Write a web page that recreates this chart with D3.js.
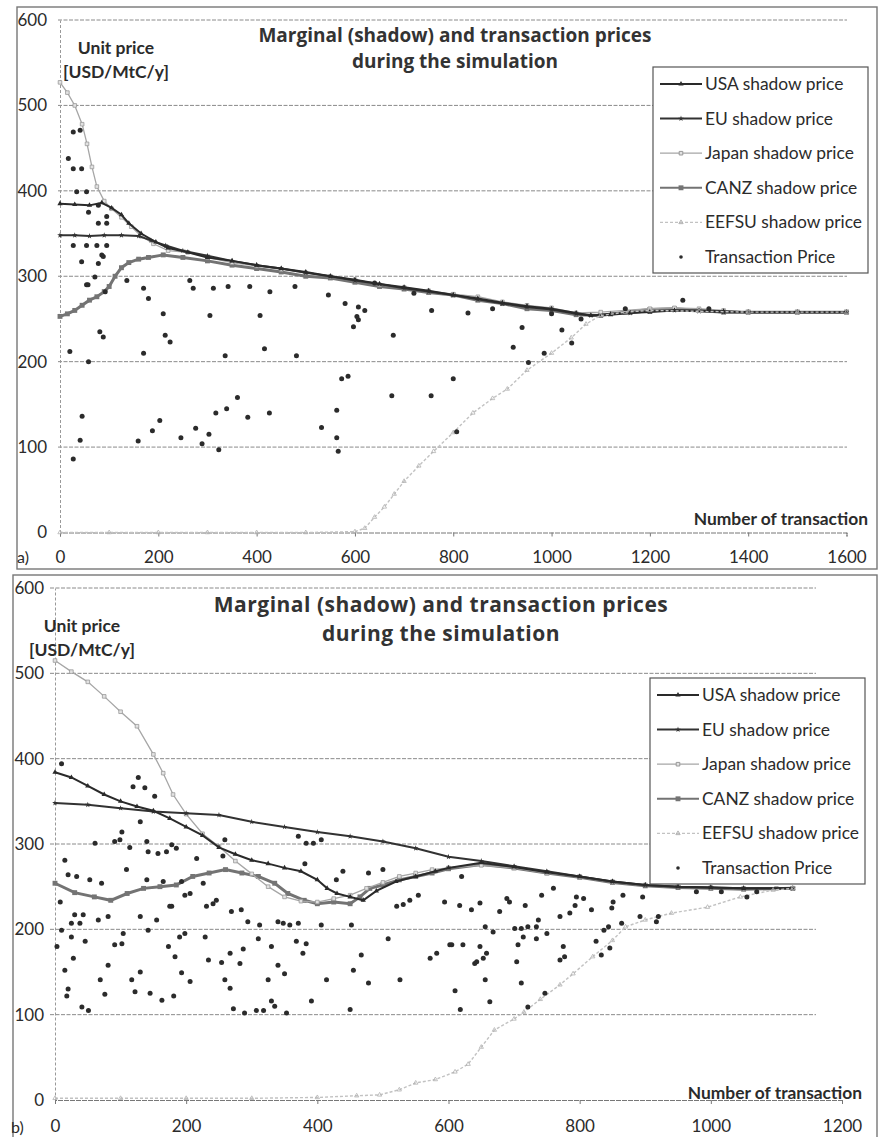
<!DOCTYPE html>
<html>
<head>
<meta charset="utf-8">
<script src="https://cdn.jsdelivr.net/npm/d3@7"></script>
<style>
  body { margin: 0; background: #fff; }
  svg text { font-family: Lato, "Open Sans", sans-serif; fill: #2b2b2b; }
</style>
</head>
<body>
<svg id="chart" width="880" height="1137"></svg>
<script>
// ---- panel a) data : [number of transaction, price]
const aUSA = [[0,385],[30,384],[60,383],[85,386],[105,380],[125,372],[140,362],[165,350],[195,340],[220,333],[260,328],[300,322],[350,318],[400,313],[450,309],[500,305],[550,300],[600,296],[650,291],[700,287],[750,283],[800,278],[850,274],[900,269],[950,265],[1000,262],[1050,257],[1080,254],[1120,255],[1160,257],[1200,258],[1250,260],[1300,260],[1350,259],[1400,258],[1500,258],[1600,258]];
const aEU = [[0,348],[30,348],[60,347],[90,348],[125,348],[160,347],[185,342],[215,336],[250,330],[300,324],[350,318],[400,313],[450,309],[500,304],[550,300],[600,295],[650,291],[700,286],[750,282],[800,278],[850,273],[900,268],[950,264],[1000,261],[1050,256],[1080,254],[1120,256],[1160,257],[1200,259],[1250,260],[1300,259],[1350,258],[1400,258],[1500,258],[1600,258]];
const aJapan = [[0,527],[15,515],[30,500],[45,478],[55,455],[65,428],[75,405],[90,388],[105,379],[125,369],[145,358],[165,347],[190,338],[220,330],[260,328],[300,322],[350,316],[400,312],[450,308],[500,304],[550,300],[600,296],[650,290],[700,287],[750,283],[800,279],[850,276],[900,270],[950,266],[1000,263],[1050,257],[1100,258],[1150,260],[1200,262],[1250,263],[1300,262],[1350,260],[1400,258],[1500,258],[1600,258]];
const aCANZ = [[0,253],[15,256],[30,260],[45,266],[60,272],[75,276],[90,282],[100,288],[112,300],[125,310],[140,316],[160,320],[180,322],[210,325],[250,322],[300,318],[350,313],[400,309],[450,305],[500,300],[550,298],[600,293],[650,288],[700,285],[750,281],[800,278],[850,272],[900,268],[950,262],[1000,260],[1050,255],[1100,254],[1150,258],[1200,261],[1250,262],[1300,260],[1350,258],[1400,258],[1500,258],[1600,258]];
const aEEFSU = [[0,0],[100,0],[200,0],[300,0],[400,0],[500,0],[600,1],[620,5],[640,18],[660,30],[680,45],[700,60],[730,78],[760,95],[800,117],[840,140],[880,157],[910,168],[950,190],[1000,210],[1040,228],[1070,244],[1100,254],[1150,258],[1200,260],[1300,259],[1400,258],[1500,258],[1600,258]];
const aTrade = [[27,469],[41,471],[17,438],[27,426],[44,426],[34,399],[54,399],[58,375],[78,383],[95,370],[78,362],[95,362],[27,336],[54,336],[75,336],[95,336],[44,317],[78,315],[85,325],[88,323],[71,299],[54,290],[57,290],[136,295],[92,282],[170,286],[180,274],[264,295],[271,286],[312,286],[342,288],[386,288],[427,282],[478,288],[546,278],[210,256],[305,254],[407,254],[81,235],[88,229],[214,231],[224,223],[20,212],[170,210],[58,200],[336,207],[416,215],[481,207],[580,268],[607,264],[620,260],[604,253],[607,249],[597,241],[678,231],[756,260],[573,180],[586,183],[675,160],[755,160],[800,180],[45,136],[41,108],[27,86],[159,107],[188,119],[203,131],[246,111],[276,122],[289,104],[303,115],[323,97],[317,140],[339,145],[361,158],[382,135],[426,140],[532,123],[563,143],[563,111],[566,95],[922,217],[953,199],[985,210],[807,118],[1041,222],[940,240],[1021,237],[830,257],[640,292],[720,280],[880,262],[1000,256],[1060,250],[1150,262],[1267,272],[1320,262]];

// ---- panel b) data
const bUSA = [[0,384],[25,378],[50,368],[75,358],[100,350],[125,344],[150,339],[175,330],[200,320],[225,310],[250,296],[275,288],[300,281],[325,277],[350,272],[375,268],[400,258],[415,248],[430,242],[450,238],[470,234],[490,245],[520,256],[550,262],[580,268],[600,272],[650,278],[700,273],[750,267],[800,262],[850,256],[900,252],[950,250],[1000,249],[1050,248],[1125,248]];
const bEU = [[0,348],[50,346],[100,342],[150,338],[200,336],[250,334],[300,326],[350,320],[400,314],[450,309],[500,303],[550,295],[600,285],[650,280],[700,274],[750,268],[800,262],[850,256],[900,252],[950,250],[1000,249],[1050,248],[1125,248]];
const bJapan = [[0,515],[25,502],[50,490],[75,473],[100,455],[125,438],[150,405],[165,383],[180,358],[200,335],[225,312],[250,297],[275,280],[300,265],[325,250],[350,238],[375,233],[400,232],[425,236],[450,240],[475,248],[500,255],[525,262],[550,266],[575,270],[600,272],[650,275],[700,272],[750,266],[800,262],[850,256],[900,252],[950,250],[1000,249],[1050,248],[1100,248],[1125,248]];
const bCANZ = [[0,254],[30,243],[60,238],[85,234],[110,242],[135,248],[160,250],[185,252],[210,262],[235,266],[260,270],[285,266],[310,262],[335,254],[355,242],[380,234],[400,230],[425,232],[450,230],[465,238],[480,248],[500,252],[525,258],[550,262],[575,266],[600,271],[650,276],[700,272],[750,266],[800,261],[850,255],[900,251],[950,249],[1000,248],[1050,247],[1125,248]];
const bEEFSU = [[0,2],[100,2],[200,2],[300,2],[400,3],[460,5],[495,6],[525,12],[550,20],[580,24],[610,33],[630,42],[650,62],[670,82],[700,95],[715,103],[740,118],[770,135],[790,148],[820,168],[850,187],[870,203],[900,211],[940,219],[995,226],[1045,238],[1095,246],[1125,248]];
const bTrade = [[10,394],[127,378],[119,367],[137,366],[152,356],[130,326],[102,314],[61,301],[91,303],[99,305],[114,296],[140,303],[142,291],[157,289],[170,291],[185,295],[178,299],[15,281],[109,270],[216,283],[259,305],[256,286],[371,309],[383,301],[406,305],[394,301],[381,277],[439,268],[429,258],[478,266],[500,270],[33,262],[20,264],[53,258],[71,254],[140,258],[165,256],[193,256],[226,254],[178,227],[198,240],[206,242],[241,230],[231,227],[246,234],[269,221],[284,223],[294,209],[312,205],[340,209],[348,207],[358,205],[371,207],[406,205],[452,205],[521,227],[531,229],[541,234],[554,240],[8,232],[30,217],[43,217],[25,207],[38,207],[66,211],[81,215],[130,215],[155,211],[175,227],[10,199],[25,191],[46,186],[104,195],[142,199],[91,182],[102,183],[173,180],[198,195],[190,191],[229,191],[310,189],[330,180],[368,186],[383,183],[508,189],[602,182],[3,180],[28,166],[183,168],[234,164],[267,172],[287,177],[254,161],[282,160],[340,158],[378,172],[467,170],[572,166],[582,172],[15,152],[81,158],[130,150],[193,149],[350,148],[455,152],[69,141],[117,141],[206,139],[259,141],[325,141],[414,141],[526,141],[478,137],[267,131],[20,130],[76,124],[122,127],[145,125],[18,122],[163,117],[181,122],[330,116],[391,116],[41,109],[51,105],[272,107],[289,102],[307,105],[318,105],[335,110],[353,102],[450,106],[620,262],[594,232],[617,228],[635,223],[648,231],[678,221],[689,236],[693,232],[717,228],[742,240],[760,248],[795,238],[793,228],[806,236],[818,223],[770,215],[785,219],[849,225],[851,232],[866,240],[737,211],[734,203],[721,203],[711,201],[701,201],[656,203],[668,197],[714,191],[734,189],[750,195],[844,203],[837,199],[864,207],[892,215],[920,215],[917,209],[605,182],[622,182],[648,180],[706,182],[775,180],[777,168],[825,186],[833,170],[846,178],[658,172],[653,166],[640,160],[643,162],[704,162],[770,164],[656,141],[711,137],[610,128],[747,125],[663,115],[618,106],[721,109],[896,238],[978,244],[1016,244],[1055,238],[1070,244]];

const yTicks = [0, 100, 200, 300, 400, 500, 600];
const aXTicks = [0, 200, 400, 600, 800, 1000, 1200, 1400, 1600];
const bXTicks = [0, 200, 400, 600, 800, 1000, 1200];
const legendNames = ["USA shadow price", "EU shadow price", "Japan shadow price", "CANZ shadow price", "EEFSU shadow price", "Transaction Price"];
const titleLines = ["Marginal (shadow) and transaction prices", "during the simulation"];

const svg = d3.select("#chart");

// series look, index matches legendNames
const styles = [
    { stroke: "#2a2a2a", width: 2, sym: d3.symbolTriangle, size: 12, fill: "#2a2a2a", mstroke: "none" },
    { stroke: "#323232", width: 2, sym: d3.symbolStar, size: 10, fill: "#323232", mstroke: "none" },
    { stroke: "#a6a6a6", width: 1.3, sym: d3.symbolSquare, size: 13, fill: "#e2e2e2", mstroke: "#999" },
    { stroke: "#737373", width: 3, sym: d3.symbolSquare, size: 24, fill: "#747474", mstroke: "none" },
    { stroke: "#c2c2c2", width: 1.4, dash: "3,2", sym: d3.symbolTriangle, size: 8, fill: "none", mstroke: "#b3b3b3" }
];

function drawSeries(g, data, st, x, y) {
    let line = d3.line().x(d => x(d[0])).y(d => y(d[1]));
    g.append("path").datum(data)
        .attr("d", line)
        .attr("fill", "none")
        .attr("stroke", st.stroke)
        .attr("stroke-width", st.width)
        .attr("stroke-dasharray", st.dash || null)
    g.selectAll(null).data(data).enter()
        .append("path")
        .attr("d", d3.symbol().type(st.sym).size(st.size))
        .attr("transform", d => `translate(${x(d[0])},${y(d[1])})`)
        .attr("fill", st.fill)
        .attr("stroke", st.mstroke)
        .attr("stroke-width", 0.8)
}

function drawLegend(g, lx, ly) {
    g.append("rect")
        .attr("x", lx).attr("y", ly)
        .attr("width", 215).attr("height", 206)
        .attr("fill", "#fff")
        .attr("stroke", "#555").attr("stroke-width", 1.2)
    legendNames.forEach((name, i) => {
        let cy = ly + 17 + i * 34.6;
        if (i < 5) {
            let st = styles[i];
            g.append("line")
                .attr("x1", lx + 7).attr("x2", lx + 49)
                .attr("y1", cy).attr("y2", cy)
                .attr("stroke", st.stroke).attr("stroke-width", Math.min(st.width, 2))
                .attr("stroke-dasharray", st.dash || null)
            g.append("path")
                .attr("d", d3.symbol().type(st.sym).size(st.size))
                .attr("transform", `translate(${lx + 28},${cy})`)
                .attr("fill", st.fill).attr("stroke", st.mstroke)
        } else {
            g.append("circle").attr("cx", lx + 28).attr("cy", cy).attr("r", 1.8).attr("fill", "#2b2b2b")
        }
        g.append("text")
            .attr("x", lx + 52).attr("y", cy + 6)
            .attr("font-size", 17.4)
            .text(name)
    })
}

function drawPanel(p) {
    let g = svg.append("g");
    let x = d3.scaleLinear().domain([0, p.xMax]).range(p.xRange);
    let y = d3.scaleLinear().domain([0, 600]).range(p.yRange);

    g.append("rect")
        .attr("x", p.frame[0]).attr("y", p.frame[1])
        .attr("width", p.frame[2]).attr("height", p.frame[3])
        .attr("fill", "none").attr("stroke", "#777").attr("stroke-width", 1.4)

    // horizontal gridlines
    g.selectAll(".grid").data(yTicks.filter(t => t > 0)).enter()
        .append("line")
        .attr("x1", p.gridFrom).attr("x2", p.gridTo)
        .attr("y1", d => y(d)).attr("y2", d => y(d))
        .attr("stroke", "#8a8a8a").attr("stroke-width", 1)
        .attr("stroke-dasharray", "4,1.5")

    let yAxis = g.append("g")
        .attr("transform", `translate(${x(0)},0)`)
        .call(d3.axisLeft(y).tickValues(yTicks).tickSize(0).tickPadding(p.yPad).tickFormat(d3.format("d")))
    yAxis.select(".domain").attr("stroke", "#999").attr("stroke-dasharray", "3,2")
    yAxis.selectAll("text").attr("font-size", 17).attr("fill", "#2b2b2b")

    let xAxis = g.append("g")
        .attr("transform", `translate(0,${y(0)})`)
        .call(d3.axisBottom(x).tickValues(p.xTicks).tickSize(4).tickPadding(p.xPad).tickFormat(d3.format("d")))
    xAxis.select(".domain").attr("stroke", "#777").attr("stroke-dasharray", "5,1")
    xAxis.selectAll(".tick line").attr("stroke", "#777")
    xAxis.selectAll("text").attr("font-size", 17).attr("fill", "#2b2b2b")

    drawSeries(g, p.canz, styles[3], x, y);
    drawSeries(g, p.japan, styles[2], x, y);
    drawSeries(g, p.eu, styles[1], x, y);
    drawSeries(g, p.usa, styles[0], x, y);
    drawSeries(g, p.eefsu, styles[4], x, y);

    g.selectAll(".trade").data(p.trade).enter()
        .append("circle")
        .attr("cx", d => x(d[0])).attr("cy", d => y(d[1]))
        .attr("r", 2.5).attr("fill", "#2b2b2b")

    // two-line title as one text block
    let title = g.append("text")
        .attr("x", p.titleX).attr("y", p.titleY)
        .attr("text-anchor", "middle")
        .style("font-family", "'Open Sans', sans-serif")
        .style("letter-spacing", p.titleSpacing + "px")
        .attr("font-weight", "bold").attr("font-size", p.titleSize)
        .style("fill", "#333")
    titleLines.forEach((t, i) => {
        title.append("tspan")
            .attr("x", p.titleX)
            .attr("dy", i === 0 ? 0 : p.titleGap)
            .text(t)
    })

    g.append("text").attr("x", p.unitX).attr("y", p.unitY)
        .attr("text-anchor", "middle").attr("font-weight", "bold").attr("font-size", 17.5)
        .text("Unit price")
    g.append("text").attr("x", p.unitX).attr("y", p.unitY + 24)
        .attr("text-anchor", "middle").attr("font-weight", "bold").attr("font-size", 17.5)
        .text("[USD/MtC/y]")
    g.append("text").attr("x", p.numX).attr("y", p.numY)
        .attr("text-anchor", "end").attr("font-weight", "bold").attr("font-size", 17.4)
        .text("Number of transaction")
    g.append("text").attr("x", p.tagX).attr("y", p.tagY)
        .attr("font-size", 16).text(p.tag)

    drawLegend(g, p.legend[0], p.legend[1]);
}

drawPanel({
    frame: [17, 7, 860, 562], xMax: 1600, xRange: [60, 846.5], yRange: [532.5, 20],
    gridFrom: 58, gridTo: 847, yPad: 13, xPad: 14, xTicks: aXTicks,
    usa: aUSA, eu: aEU, japan: aJapan, canz: aCANZ, eefsu: aEEFSU, trade: aTrade,
    titleX: 455, titleY: 42, titleGap: 26, titleSize: 19, titleSpacing: 0,
    unitX: 116, unitY: 54, numX: 868, numY: 525, tag: "a)", tagX: 17, tagY: 563,
    legend: [653, 67]
});

drawPanel({
    frame: [13, 575, 864, 570], xMax: 1200, xRange: [55, 842], yRange: [1100, 588],
    gridFrom: 50, gridTo: 816, yPad: 11, xPad: 16, xTicks: bXTicks,
    usa: bUSA, eu: bEU, japan: bJapan, canz: bCANZ, eefsu: bEEFSU, trade: bTrade,
    titleX: 441, titleY: 612, titleGap: 29, titleSize: 21, titleSpacing: 0.5,
    unitX: 82, unitY: 632, numX: 862, numY: 1099, tag: "b)", tagX: 11, tagY: 1133,
    legend: [650, 678]
});
</script>
</body>
</html>
